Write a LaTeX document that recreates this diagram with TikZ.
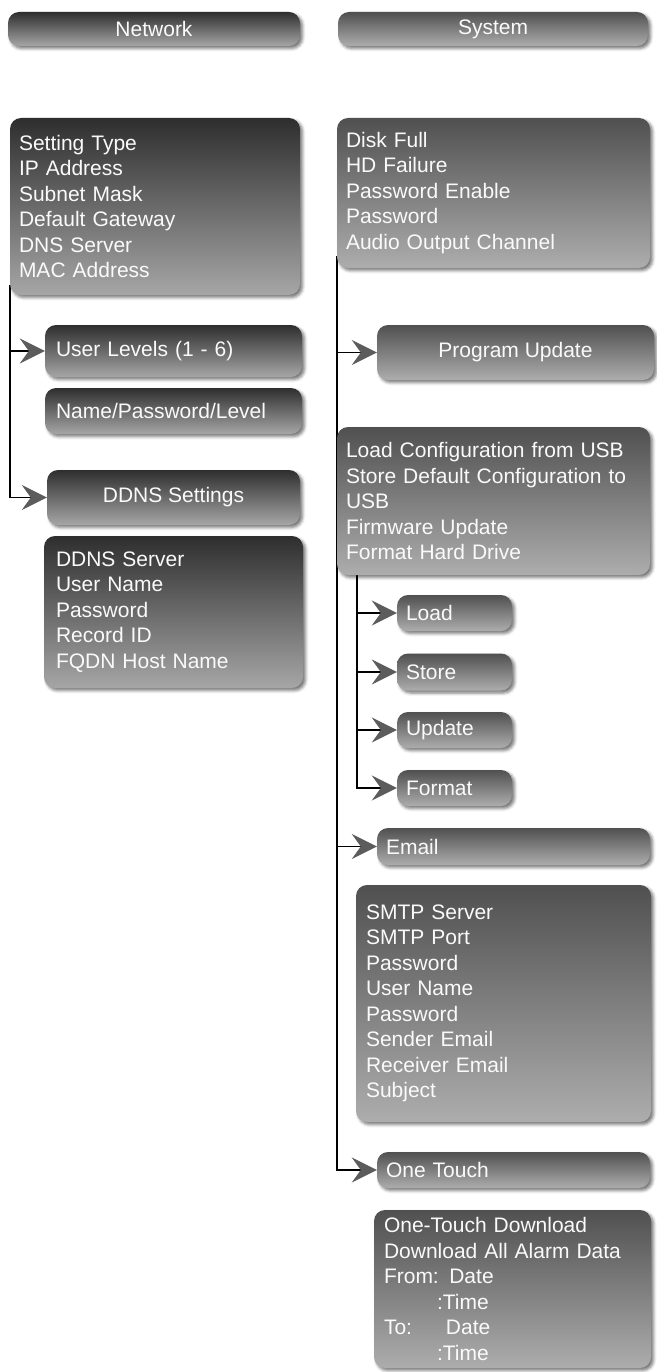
\documentclass[tikz,border=0pt]{standalone}
\usepackage{fontspec}
\setmainfont{Liberation Sans}
\usetikzlibrary{arrows.meta,shadows.blur}
\pgfdeclarelayer{back}
\pgfsetlayers{back,main}
\definecolor{dtop}{HTML}{2E2E2E}
\definecolor{dbot}{HTML}{A6A6A6}
\definecolor{ltop}{HTML}{505050}
\definecolor{lbot}{HTML}{ADADAD}
\definecolor{arrowgray}{HTML}{5C5C5C}
\definecolor{txt}{HTML}{FAFAFA}
\begin{document}
\begin{tikzpicture}[x=1pt,y=-1pt,
  base/.style={rounded corners=11pt, text=txt, inner ysep=0pt, inner xsep=9pt,
    font=\fontsize{21}{25.5}\selectfont,
    blur shadow={shadow xshift=2.5pt, shadow yshift=-2.5pt, shadow blur radius=3pt, shadow opacity=55}},
  dark/.style={base, top color=dtop, bottom color=dbot},
  light/.style={base, top color=ltop, bottom color=lbot},
  sz/.style 2 args={minimum width=#1pt, minimum height=#2pt},
  lst/.style={text width=#1pt-18pt, align=left},
  conn/.style={draw=black, line width=1.2pt,
    -{Stealth[length=25pt, width=25pt, inset=9pt, fill=arrowgray, color=arrowgray]}}
]
\useasboundingbox (0,0) rectangle (656,1372);

% headers
\node[dark, sz={292}{34}] (net) at (154,29) {Network};
\node[light, sz={310}{34}] (sys) at (493,29) {System};

% left column
\node[dark, sz={290}{177}, lst=290] (set) at (155,206.5)
  {Setting Type\\IP Address\\Subnet Mask\\Default Gateway\\DNS Server\\MAC Address};
\node[dark, sz={253}{52}, lst=253, inner xsep=11pt] (user) at (173.5,351) {User Levels (1 - 6)};
\node[dark, sz={253}{46}, lst=253, inner xsep=11pt] (npl) at (173.5,411) {Name/Password/Level};
\node[dark, sz={253}{55}] (ddns) at (173.5,497.5) {DDNS Settings};
\node[dark, sz={253}{152}, lst=253, inner xsep=12pt] (ddnsl) at (173.5,612)
  {DDNS Server\\User Name\\Password\\Record ID\\FQDN Host Name};

% right column
\node[light, sz={313}{150}, lst=313] (disk) at (493.5,193)
  {Disk Full\\HD Failure\\Password Enable\\Password\\Audio Output Channel};
\node[light, sz={277}{55}] (prog) at (515.5,352.5) {Program Update};
\node[light, sz={313}{148}, lst=313] (usb) at (493.5,501)
  {Load Configuration from USB\\Store Default Configuration to\\USB\\Firmware Update\\Format Hard Drive};
\node[light, sz={115}{36}, lst=115, inner xsep=8pt] (load) at (454.5,613) {Load};
\node[light, sz={115}{37}, lst=115, inner xsep=8pt] (store) at (454.5,672) {Store};
\node[light, sz={115}{36}, lst=115, inner xsep=8pt] (upd) at (454.5,730) {Update};
\node[light, sz={115}{36}, lst=115, inner xsep=8pt] (fmt) at (454.5,788) {Format};
\node[light, sz={273}{37}, lst=273, inner xsep=8pt] (email) at (513.5,846.5) {Email};
\node[light, sz={293}{237}, lst=293, inner xsep=10pt] (smtp) at (503.5,1003.5)
  {SMTP Server\\SMTP Port\\Password\\User Name\\Password\\Sender Email\\Receiver Email\\Subject};
\node[light, sz={273}{36}, lst=273, inner xsep=8pt] (ot) at (513.5,1170) {One Touch};
\node[light, sz={275}{158}, lst=275, inner xsep=10pt] (otd) at (512.5,1289)
  {One-Touch Download\\Download All Alarm Data\\From: Date\\\hspace*{53pt}:Time\\\makebox[62pt][l]{To:}Date\\\hspace*{53pt}:Time};

% connectors
\coordinate (ltrunk) at (10,285);
\coordinate (rtrunk) at (337,256);
\coordinate (itrunk) at (357,570);
\begin{pgfonlayer}{back}
\draw[conn] (ltrunk) |- (user.west);
\draw[conn] (ltrunk) |- (ddns.west);
\draw[conn] (rtrunk) |- (prog.west);
\draw[conn] (rtrunk) |- (email.west);
\draw[conn] (rtrunk) |- (ot.west);
\draw[conn] (itrunk) |- (load.west);
\draw[conn] (itrunk) |- (store.west);
\draw[conn] (itrunk) |- (upd.west);
\draw[conn] (itrunk) |- (fmt.west);
\end{pgfonlayer}
\end{tikzpicture}
\end{document}
